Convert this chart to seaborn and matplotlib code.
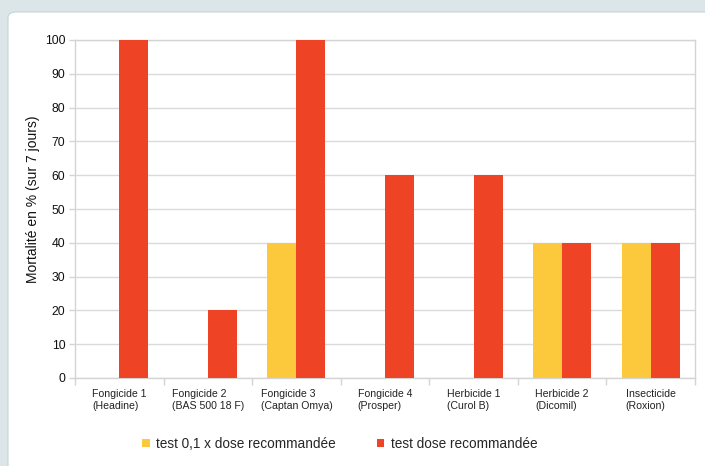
import matplotlib
matplotlib.use("Agg")
import matplotlib.pyplot as plt
import seaborn as sns
import pandas as pd
from matplotlib.patches import FancyBboxPatch, Patch
from matplotlib.ticker import FixedLocator

categories = ["Fongicide 1\n(Headine)", "Fongicide 2\n(BAS 500 18 F)", "Fongicide 3\n(Captan Omya)",
              "Fongicide 4\n(Prosper)", "Herbicide 1\n(Curol B)", "Herbicide 2\n(Dicomil)",
              "Insecticide\n(Roxion)"]
series_names = ["test 0,1 x dose recommandée", "test dose recommandée"]
low_dose = [0, 0, 40, 0, 0, 40, 40]
full_dose = [100, 20, 100, 60, 60, 40, 40]
y_ticks = [0, 10, 20, 30, 40, 50, 60, 70, 80, 90, 100]
colors = ["#fcc93c", "#ee4325"]

df = pd.DataFrame({
    "cat": categories * 2,
    "serie": [series_names[0]] * len(categories) + [series_names[1]] * len(categories),
    "val": low_dose + full_dose,
})

sns.set_theme(style="white")
plt.rcParams["font.family"] = ["Liberation Sans", "DejaVu Sans"]

W, H = 705, 466
fig = plt.figure(figsize=(W / 100, H / 100), dpi=100)
fig.patch.set_facecolor("#dce5e8")
panel = FancyBboxPatch((8 / W, -0.1), 1.2, 1 - 12 / H + 0.1,
                       boxstyle="round,pad=0,rounding_size=0.012",
                       transform=fig.transFigure, facecolor="white",
                       edgecolor="#c9d3d6", linewidth=0.8, zorder=-10)
fig.patches.append(panel)

ax = fig.add_axes([75 / W, 1 - 378 / H, (695 - 75) / W, (378 - 40) / H])
ax.set_facecolor("white")
sns.barplot(data=df, x="cat", y="val", hue="serie", palette=colors, width=0.655,
            gap=0, saturation=1, ax=ax, legend=False, order=categories,
            hue_order=series_names, zorder=3, linewidth=0, edgecolor="none")

ax.set_xlim(-0.5, len(categories) - 0.5)
ax.set_ylim(0, 100)
ax.set_yticks(y_ticks)
ax.yaxis.grid(True, color="#dadada", linewidth=1.0, zorder=0)
ax.set_axisbelow(True)
for s in ax.spines.values():
    s.set_color("#d4d4d4")
    s.set_linewidth(1.0)
    s.set_visible(True)

ax.set_xlabel("")
ax.set_ylabel("Mortalité en % (sur 7 jours)", fontsize=10, color="#111111")
ax.yaxis.set_label_coords(-0.056, 0.53)
ax.tick_params(axis="y", labelsize=8.8, colors="#111111", length=4, width=1,
               color="#d4d4d4", left=True, pad=3)
ax.tick_params(axis="x", which="major", labelsize=7.6, length=0, pad=8, colors="#222222")
ax.xaxis.set_minor_locator(FixedLocator([i - 0.5 for i in range(len(categories) + 1)]))
ax.tick_params(axis="x", which="minor", length=5, width=1, color="#d4d4d4", bottom=True)
for lbl in ax.get_xticklabels():
    lbl.set_horizontalalignment("center")
    lbl.set_multialignment("left")

handles = [Patch(facecolor=c, edgecolor="none") for c in colors]
fig.legend(handles, series_names, loc="center", bbox_to_anchor=(340 / W, 1 - 444 / H),
           ncol=2, frameon=False, fontsize=9.8, handlelength=0.55, handleheight=0.55,
           handletextpad=0.5, columnspacing=3.0)

fig.savefig("out.png", dpi=100, facecolor=fig.get_facecolor())
